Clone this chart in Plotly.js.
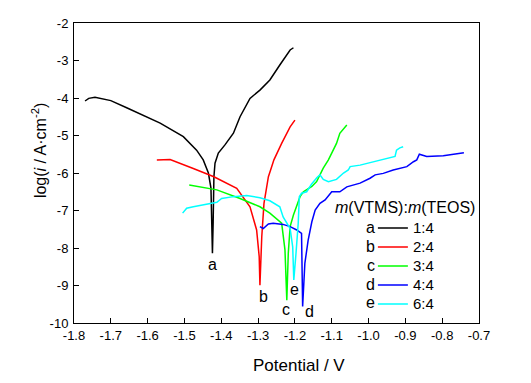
<!DOCTYPE html>
<html><head><meta charset="utf-8">
<script src="https://cdn.plot.ly/plotly-3.0.1.min.js"></script>
<style>html,body{margin:0;padding:0;background:#fff}#chart{width:531px;height:383px}</style>
</head><body><div id="chart"></div>
<script>
const seriesNames = ["1:4", "2:4", "3:4", "4:4", "6:4"];
const curveLetters = ["a", "b", "c", "d", "e"];
const seriesColors = ["#000000", "#ff0000", "#00ff00", "#0000ff", "#00ffff"];

const aX = [-1.770, -1.760, -1.743, -1.700, -1.657, -1.566, -1.503, -1.467, -1.449, -1.435, -1.428, -1.426, -1.424, -1.422, -1.421, -1.420, -1.417, -1.408, -1.390, -1.367, -1.349, -1.322, -1.295, -1.268, -1.241, -1.213, -1.204];
const aY = [-4.08, -4.01, -3.98, -4.07, -4.26, -4.67, -5.03, -5.39, -5.65, -6.00, -6.40, -7.20, -8.14, -7.30, -6.60, -6.10, -5.74, -5.47, -5.25, -4.94, -4.50, -4.01, -3.79, -3.52, -3.12, -2.72, -2.66];

const bX = [-1.575, -1.539, -1.476, -1.420, -1.358, -1.322, -1.304, -1.297, -1.295, -1.290, -1.284, -1.272, -1.266, -1.257, -1.236, -1.213, -1.200];
const bY = [-5.65, -5.64, -5.88, -6.10, -6.41, -6.90, -7.52, -8.23, -8.99, -7.70, -6.81, -6.10, -5.92, -5.65, -5.21, -4.77, -4.59];

const cX = [-1.487, -1.412, -1.349, -1.295, -1.268, -1.241, -1.236, -1.227, -1.222, -1.218, -1.215, -1.213, -1.204, -1.195, -1.186, -1.177, -1.154, -1.141, -1.132, -1.123, -1.109, -1.096, -1.087, -1.078, -1.059];
const cY = [-6.32, -6.45, -6.68, -6.90, -7.07, -7.30, -7.34, -8.05, -9.39, -8.14, -7.52, -7.43, -7.12, -6.85, -6.63, -6.50, -6.36, -6.23, -6.05, -5.87, -5.65, -5.39, -5.21, -4.94, -4.72];

const dX = [-1.295, -1.286, -1.272, -1.259, -1.232, -1.213, -1.195, -1.182, -1.179, -1.173, -1.164, -1.154, -1.145, -1.132, -1.118, -1.100, -1.078, -1.059, -1.023, -0.996, -0.982, -0.960, -0.933, -0.896, -0.878, -0.869, -0.862, -0.842, -0.797, -0.761, -0.741];
const dY = [-7.43, -7.48, -7.36, -7.34, -7.37, -7.43, -7.52, -7.61, -9.56, -8.41, -7.79, -7.30, -6.99, -6.81, -6.72, -6.50, -6.50, -6.37, -6.27, -6.14, -6.05, -6.01, -5.92, -5.83, -5.70, -5.65, -5.50, -5.56, -5.54, -5.49, -5.46];

const eX = [-1.505, -1.494, -1.476, -1.440, -1.412, -1.399, -1.367, -1.331, -1.295, -1.268, -1.241, -1.232, -1.222, -1.213, -1.206, -1.203, -1.197, -1.191, -1.188, -1.182, -1.168, -1.155, -1.140, -1.132, -1.123, -1.109, -1.087, -1.068, -1.055, -1.050, -1.023, -0.996, -0.960, -0.928, -0.924, -0.915, -0.906];
const eY = [-7.07, -6.94, -6.90, -6.84, -6.78, -6.68, -6.63, -6.60, -6.66, -6.74, -6.90, -7.17, -7.34, -7.48, -7.97, -8.85, -8.14, -7.34, -6.63, -6.54, -6.50, -6.30, -6.12, -6.05, -6.17, -6.23, -6.17, -6.00, -5.92, -5.83, -5.79, -5.72, -5.63, -5.56, -5.39, -5.33, -5.30];

const letterX = [-1.424, -1.286, -1.224, -1.161, -1.202];
const letterY = [-8.43, -9.30, -9.65, -9.68, -9.10];

const xTickVals = [-1.8, -1.7, -1.6, -1.5, -1.4, -1.3, -1.2, -1.1, -1.0, -0.9, -0.8, -0.7];
const xTickText = ["-1.8", "-1.7", "-1.6", "-1.5", "-1.4", "-1.3", "-1.2", "-1.1", "-1.0", "-0.9", "-0.8", "-0.7"];
const yTickVals = [-10, -9, -8, -7, -6, -5, -4, -3, -2];
const yTickText = ["-10", "-9", "-8", "-7", "-6", "-5", "-4", "-3", "-2"];

const xs = [aX, bX, cX, dX, eX];
const ys = [aY, bY, cY, dY, eY];
const FONT = "Arial, 'Liberation Sans', sans-serif";

const traces = xs.map((x, i) => ({
  x: x, y: ys[i], type: "scatter", mode: "lines",
  name: '<span style="font-size:15px">' + seriesNames[i] + '</span>',
  line: {color: seriesColors[i], width: 1.5}
}));

const legendRowY = [0.319, 0.254, 0.191, 0.129, 0.067];
const annotations = [];
curveLetters.forEach((t, i) => {
  annotations.push({x: letterX[i], y: letterY[i], xref: "x", yref: "y", text: t, showarrow: false,
    font: {family: FONT, size: 16, color: "#000"}, xanchor: "center", yanchor: "middle"});
  annotations.push({x: 0.747, y: legendRowY[i], xref: "paper", yref: "paper", text: t, showarrow: false,
    font: {family: FONT, size: 16, color: "#000"}, xanchor: "right", yanchor: "middle"});
});
annotations.push({x: 0.817, y: 0.384, xref: "paper", yref: "paper", text: "<i>m</i>(VTMS):<i>m</i>(TEOS)",
  showarrow: false, font: {family: FONT, size: 16, color: "#000"}, xanchor: "center", yanchor: "middle"});
annotations.push({x: 0.556, y: -0.142, xref: "paper", yref: "paper", text: "Potential / V",
  showarrow: false, font: {family: FONT, size: 17, color: "#000"}, xanchor: "center", yanchor: "middle"});
annotations.push({x: -0.0864, y: 0.573, xref: "paper", yref: "paper", text: "log(<i>i</i> / A·cm<sup>-2</sup>)",
  showarrow: false, textangle: -90, font: {family: FONT, size: 16, color: "#000"}, xanchor: "center", yanchor: "middle"});

const axisCommon = {
  showline: true, mirror: true, linecolor: "#000", linewidth: 1,
  ticks: "inside", ticklen: 5, tickcolor: "#000", tickwidth: 1,
  showgrid: false, zeroline: false, tickmode: "array",
  tickfont: {family: FONT, size: 13, color: "#000"}
};

const layout = {
  width: 531, height: 383,
  margin: {l: 74, r: 52, t: 23, b: 60},
  paper_bgcolor: "#fff", plot_bgcolor: "#fff",
  showlegend: true,
  legend: {x: 0.738, xanchor: "left", y: 0.365, yanchor: "top", bgcolor: "rgba(0,0,0,0)",
    font: {family: FONT, size: 12.3, color: "#000"}, tracegroupgap: 0},
  xaxis: Object.assign({}, axisCommon, {range: [-1.8, -0.7], tickvals: xTickVals, ticktext: xTickText}),
  yaxis: Object.assign({}, axisCommon, {range: [-10, -2], tickvals: yTickVals, ticktext: yTickText, ticklabelstandoff: 2}),
  annotations: annotations
};

Plotly.newPlot("chart", traces, layout, {staticPlot: true, displayModeBar: false});
</script></body></html>
